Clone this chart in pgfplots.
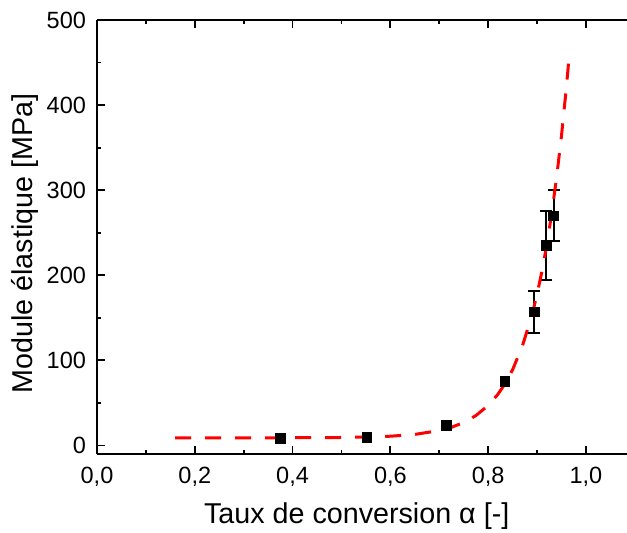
\documentclass[border=0pt]{standalone}
\usepackage{pgfplots}
\pgfplotsset{compat=1.18}
\usepackage{fontspec}
\setmainfont{Liberation Sans}
\begin{document}
\begin{tikzpicture}
\begin{axis}[
  name=ax,
  scale only axis, width=265bp, height=217bp,
  xmin=0, xmax=1.084, ymin=-10, ymax=500,
  axis x line=box, axis y line=left,
  axis line style={-, line width=1bp, black},
  /pgf/number format/assume math mode=true,
  xtick={0,0.2,0.4,0.6,0.8,1.0},
  ytick={0,100,200,300,400,500},
  minor x tick num=1, minor y tick num=1,
  tick align=inside,
  major tick length=4bp, minor tick length=2.2bp,
  every tick/.style={black, line width=0.9bp},
  x tick label style={/pgf/number format/.cd, fixed, fixed zerofill, precision=1, use comma},
  tick label style={font=\fontsize{11.8}{13}\selectfont},
  xticklabel shift=3.2bp, yticklabel shift=2bp,
  xlabel={Taux de conversion α [-]},
  ylabel={Module élastique [MPa]},
  every axis x label/.style={at={(axis description cs:0.49,-0.159)}, anchor=base, font=\fontsize{14.4}{16}\selectfont},
  every axis y label/.style={at={(axis description cs:-0.121,0.485)}, rotate=90, anchor=base, font=\fontsize{14.4}{16}\selectfont},
  clip=false,
]
\addplot[only marks, mark=square*, mark size=2.4bp, black] coordinates {
  (0.375,8.6) (0.552,9.8) (0.714,23.5) (0.834,75)
};
\addplot[only marks, mark=square*, mark size=2.4bp, black,
  error bars/.cd, y dir=both, y explicit,
  error bar style={line width=1bp, black},
  error mark options={rotate=90, mark size=3bp, line width=1bp, black}]
  coordinates {
  (0.894,157) +- (0,25)
  (0.919,235) +- (0,40)
  (0.934,270) +- (0,30)
};
\addplot[red, line width=1.5bp, dash pattern=on 8bp off 7bp] coordinates {
  (0.16,9.0) (0.2,9.0) (0.3,9.0) (0.4,9.1) (0.5,9.4) (0.55,9.9) (0.6,10.9)
  (0.65,13.0) (0.7,17.6) (0.725,21.4) (0.75,27.0) (0.775,35.2) (0.8,47.0)
  (0.82,60.2) (0.835,73) (0.85,89) (0.87,116.8) (0.89,154) (0.9,177.6)
  (0.91,204.7) (0.92,236) (0.93,272.6) (0.94,315) (0.95,364) (0.96,421) (0.965,453)
};
\end{axis}
\pgfresetboundingbox
\path[use as bounding box] ([shift={(-48.5bp,-39.5bp)}]ax.south west) rectangle ([shift={(0bp,10bp)}]ax.north east);
\end{tikzpicture}
\end{document}
